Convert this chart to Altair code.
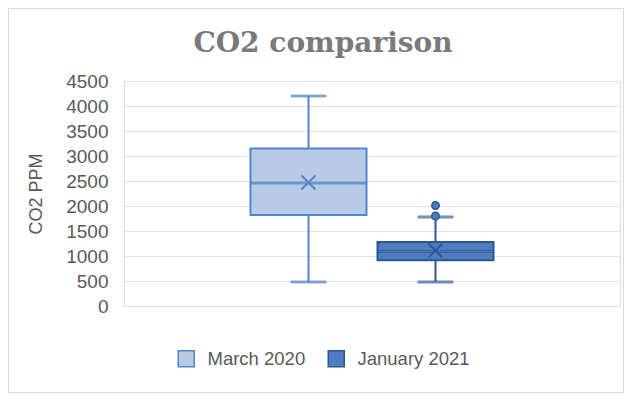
import altair as alt
import pandas as pd

series = ["March 2020", "January 2021"]
whisker_low = [480, 480]
q1 = [1820, 915]
median = [2460, 1090]
q3 = [3150, 1280]
whisker_high = [4200, 1780]
mean = [2470, 1110]
outlier_series = ["January 2021", "January 2021"]
outlier_values = [1800, 2010]
chart_title = "CO2 comparison"

fills = ["#B7CBE7", "#4E7EC0"]
strokes = ["#5186CC", "#2F5597"]
y_ticks = [0, 500, 1000, 1500, 2000, 2500, 3000, 3500, 4000, 4500]

df = pd.DataFrame({
    "series": series, "low": whisker_low, "q1": q1, "median": median,
    "q3": q3, "high": whisker_high, "mean": mean,
})
out_df = pd.DataFrame({"series": outlier_series, "value": outlier_values})

legend = alt.Legend(
    title=None, orient="none", legendX=53, legendY=268, direction="horizontal",
    symbolType="square", symbolSize=256, symbolStrokeWidth=1.5, symbolOpacity=1,
    labelFont="Liberation Sans", labelFontSize=18.5, labelColor="#595959",
    labelOffset=12, columnPadding=19, padding=0,
)
fill_enc = alt.Fill("series:N", scale=alt.Scale(domain=series, range=fills), legend=legend)
stroke_enc = alt.Stroke("series:N", scale=alt.Scale(domain=series, range=strokes), legend=legend)
x_enc = alt.X("series:N", scale=alt.Scale(domain=series, paddingInner=0.0866, paddingOuter=0.996), axis=None)
yscale = alt.Scale(domain=[0, 4500], nice=False)
y_axis = alt.Axis(
    values=y_ticks, format="d", title="CO2 PPM", grid=True, gridColor="#E3E3E3", gridWidth=1,
    domain=True, domainColor="#D9D9D9", ticks=False, labelPadding=16,
    labelFont="Liberation Sans", labelFontSize=19, labelColor="#595959",
    titleFont="Liberation Sans", titleFontSize=18, titleColor="#595959",
    titleFontWeight="normal", titlePadding=20,
)

base = alt.Chart(df)

border = alt.Chart(pd.DataFrame({"a": [0]})).mark_rect(
    fill=None, stroke="#D9D9D9", strokeWidth=1
).encode(
    x=alt.value(-115.5), x2=alt.value(499.5), y=alt.value(-72.5), y2=alt.value(311.5)
)
title_mark = alt.Chart(pd.DataFrame({"t": [chart_title]})).mark_text(
    font="DejaVu Serif", fontSize=28, fontWeight="bold", color="#7A7A7A",
    align="center", baseline="alphabetic",
).encode(text="t:N", x=alt.value(199), y=alt.value(-29))

whisker = base.mark_rule(strokeWidth=2).encode(
    x=x_enc, y=alt.Y("low:Q", scale=yscale, axis=y_axis), y2="high:Q", stroke=stroke_enc
)
caps_high = base.mark_tick(size=35, thickness=2).encode(
    x=x_enc, y=alt.Y("high:Q", scale=yscale, axis=y_axis), stroke=stroke_enc
)
caps_low = base.mark_tick(size=35, thickness=2).encode(
    x=x_enc, y=alt.Y("low:Q", scale=yscale, axis=y_axis), stroke=stroke_enc
)
box = base.mark_bar(strokeWidth=2).encode(
    x=x_enc, y=alt.Y("q1:Q", scale=yscale, axis=y_axis), y2="q3:Q", fill=fill_enc, stroke=stroke_enc
)
med = base.mark_tick(size=116, thickness=2).encode(
    x=x_enc, y=alt.Y("median:Q", scale=yscale, axis=y_axis), stroke=stroke_enc
)
mean_pt = base.mark_point(
    shape="M-1,-1L1,1M-1,1L1,-1", size=196, filled=False, strokeWidth=2, opacity=1
).encode(
    x=x_enc, y=alt.Y("mean:Q", scale=yscale, axis=y_axis), stroke=stroke_enc
)
outliers = alt.Chart(out_df).mark_point(
    shape="circle", size=55, filled=True, strokeWidth=1.5, opacity=1
).encode(
    x=x_enc, y=alt.Y("value:Q", scale=yscale, axis=y_axis), fill=fill_enc, stroke=stroke_enc
)

chart = alt.layer(
    border, title_mark, whisker, caps_low, caps_high, box, med, mean_pt, outliers
).properties(
    width=496, height=225,
    padding={"left": 116, "top": 73, "right": 4, "bottom": 87},
    autosize=alt.AutoSizeParams(type="none"),
).configure_view(stroke=None).configure(background="white")

chart.save("out.html", embed_options={"renderer": "svg", "actions": False})
